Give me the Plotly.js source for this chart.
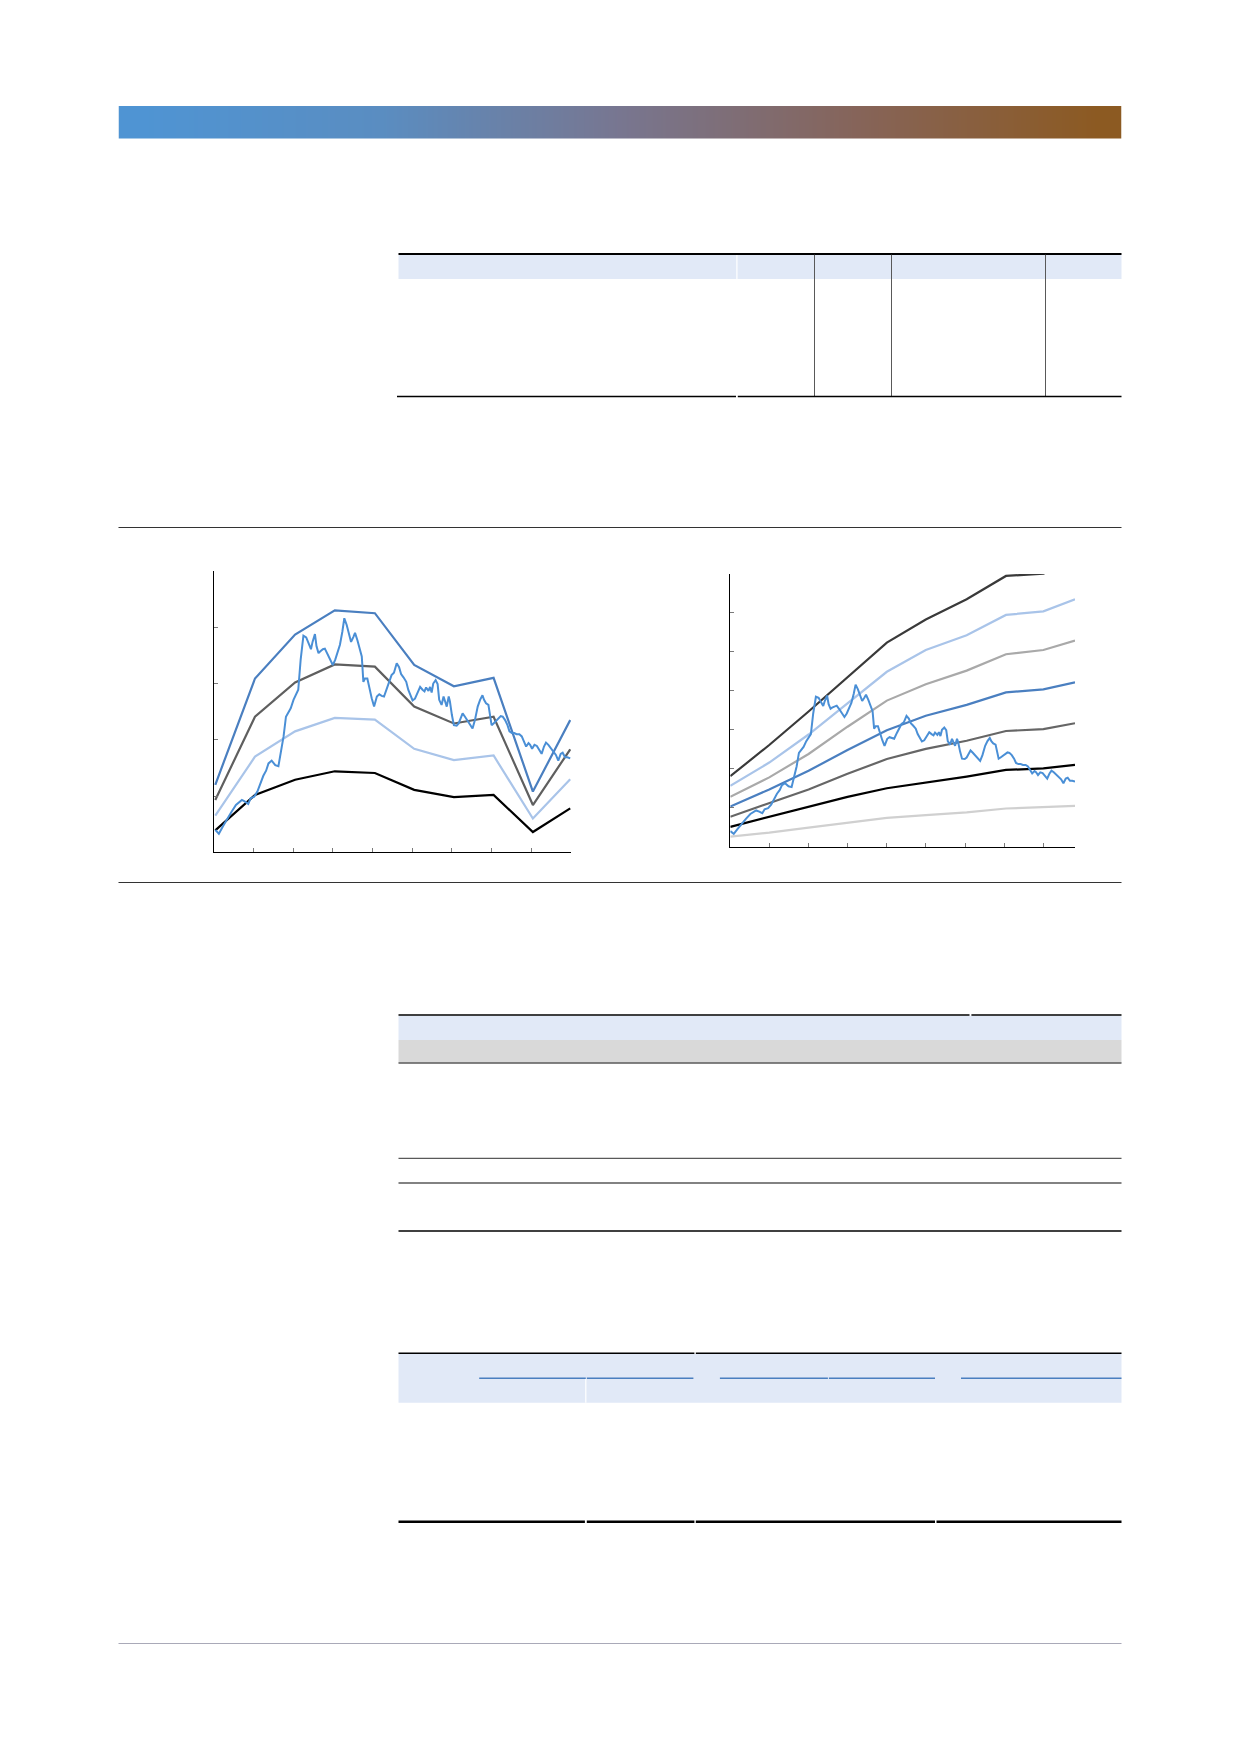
<!DOCTYPE html>
<html>
<head>
<meta charset="utf-8">
<script src="https://cdn.plot.ly/plotly-3.0.1.min.js"></script>
<style>
html,body{margin:0;padding:0;background:#fff;}
#page{width:1240px;height:1754px;}
</style>
</head>
<body>
<div id="page"></div>
<script>
// ---------------- DATA ----------------
// Observed (noisy) series, shared by both charts
var obsT = [0.04,0.13,0.23,0.33,0.45,0.56,0.71,0.79,0.87,0.93,
1.02,1.10,1.17,1.25,1.32,1.38,1.46,1.55,1.63,1.69,
1.76,1.82,1.88,1.94,2.01,2.07,2.13,2.19,2.26,2.33,
2.39,2.45,2.49,2.55,2.59,2.64,2.68,2.75,2.80,2.86,
2.93,3.00,3.06,3.12,3.18,3.24,3.29,3.35,3.41,3.46,
3.52,3.56,3.62,3.67,3.73,3.77,3.81,3.87,3.92,3.98,
4.04,4.11,4.17,4.23,4.29,4.36,4.43,4.48,4.54,4.61,
4.67,4.72,4.78,4.85,4.90,4.96,5.01,5.07,5.13,5.20,
5.26,5.31,5.35,5.41,5.45,5.49,5.53,5.59,5.64,5.68,
5.74,5.79,5.83,5.87,5.92,5.95,6.00,6.05,6.12,6.17,
6.22,6.27,6.33,6.39,6.46,6.52,6.58,6.65,6.71,6.77,
6.81,6.86,6.92,6.96,7.00,7.05,7.11,7.17,7.23,7.28,
7.34,7.40,7.45,7.51,7.57,7.63,7.70,7.76,7.82,7.87,
7.93,7.97,8.02,8.08,8.14,8.20,8.26,8.32,8.37,8.43,
8.49,8.56,8.62,8.68,8.74,8.79,8.85,8.91,8.98];
var obsV = [0.40,0.33,0.46,0.59,0.72,0.84,0.93,0.90,0.86,0.96,
0.99,1.08,1.23,1.36,1.45,1.58,1.63,1.55,1.53,1.76,
2.06,2.41,2.49,2.56,2.71,2.81,2.89,3.42,3.85,3.82,
3.73,3.61,3.74,3.88,3.66,3.54,3.57,3.61,3.62,3.54,
3.42,3.33,3.42,3.54,3.69,3.92,4.16,4.04,3.89,3.74,
3.83,3.90,3.77,3.63,3.48,3.03,3.09,3.09,2.90,2.74,
2.59,2.77,2.81,2.78,2.77,2.92,3.06,3.15,3.19,3.36,
3.29,3.17,3.11,3.03,2.89,2.77,2.70,2.73,2.83,2.94,
2.89,2.86,2.93,2.87,2.94,2.84,3.00,3.06,2.99,2.71,
2.62,2.77,2.68,2.59,2.77,2.68,2.44,2.26,2.25,2.29,
2.38,2.47,2.41,2.34,2.28,2.20,2.35,2.59,2.71,2.79,
2.71,2.65,2.62,2.47,2.26,2.29,2.33,2.38,2.42,2.41,
2.35,2.26,2.15,2.12,2.12,2.10,2.10,2.06,1.95,1.88,
1.94,1.91,1.84,1.91,1.89,1.83,1.75,1.88,1.95,1.91,
1.85,1.79,1.73,1.63,1.75,1.77,1.69,1.69,1.67];

// Chart 1 bands
var c1T = [0.04,1.04,2.05,3.05,4.06,5.05,6.05,7.05,8.04,8.98];
var c1Upper = [1.20,3.09,3.87,4.30,4.25,3.33,2.95,3.10,1.08,2.35];
var c1Mid   = [0.93,2.41,3.02,3.34,3.30,2.59,2.29,2.41,0.84,1.83];
var c1Low   = [0.65,1.70,2.15,2.39,2.36,1.84,1.64,1.72,0.60,1.30];
var c1Base  = [0.39,1.02,1.29,1.44,1.41,1.11,0.98,1.02,0.36,0.78];

// Chart 2 fan
var c2T   = [0.04,1.05,2.07,3.08,4.10,5.11,6.17,7.19,8.16,8.98];
var c2P90 = [1.81,2.61,3.47,4.36,5.24,5.83,6.35,6.95,7.01,7.35];
var c2P80 = [1.56,2.16,2.88,3.68,4.49,5.05,5.43,5.95,6.04,6.35];
var c2P70 = [1.28,1.78,2.38,3.08,3.75,4.17,4.52,4.94,5.05,5.29];
var c2P50 = [1.03,1.47,1.95,2.48,2.99,3.36,3.64,3.96,4.04,4.22];
var c2P30 = [0.77,1.11,1.47,1.87,2.25,2.51,2.72,2.97,3.02,3.17];
var c2P20 = [0.51,0.77,1.03,1.28,1.50,1.64,1.80,1.97,2.01,2.10];
var c2P10 = [0.26,0.36,0.49,0.62,0.74,0.81,0.88,0.98,1.01,1.05];

// ---------------- LAYOUT HELPERS ----------------
var W = 1240, H = 1754;
function X(px){ return px / W; }
function Y(py){ return 1 - py / H; }

function line(x0, x1, y, color, w){
  return {type:'line', xref:'paper', yref:'paper', x0:X(x0), x1:X(x1), y0:Y(y), y1:Y(y),
          line:{color:color, width:w}};
}
function vline(x, y0, y1, color, w){
  return {type:'line', xref:'paper', yref:'paper', x0:X(x), x1:X(x), y0:Y(y0), y1:Y(y1),
          line:{color:color, width:w}};
}
function rect(x0, x1, y0, y1, color){
  return {type:'rect', xref:'paper', yref:'paper', x0:X(x0), x1:X(x1), y0:Y(y1), y1:Y(y0),
          fillcolor:color, line:{width:0}, layer:'below'};
}

var HEAD = '#e1e9f7', GRAY = '#595959', BLUE = '#4a7fc0';
var shapes = [
  // Table 1
  rect(398.5, 1121.5, 254.7, 279, HEAD),
  vline(736.9, 254.7, 279, '#ffffff', 1.2),
  line(398.5, 1121.5, 254, '#000', 2),
  vline(814.5, 254.7, 396.7, GRAY, 1),
  vline(891.5, 254.7, 396.7, GRAY, 1),
  vline(1045.5, 254.7, 396.7, GRAY, 1),
  line(397, 736, 396.5, '#000', 1.3),
  line(737.8, 1121.5, 396.5, '#000', 1.3),
  // Section separators
  line(118.5, 1121.5, 527.5, '#333333', 1),
  line(118.5, 1121.5, 882.5, '#333333', 1),
  // Table 2
  rect(398.5, 1121.5, 1015.7, 1040, HEAD),
  rect(398.5, 1121.5, 1040, 1062.7, '#d9d9d9'),
  line(398.5, 969.5, 1015, '#000', 1.5),
  line(971.4, 1121.5, 1015, '#000', 1.5),
  line(398.5, 1121.5, 1063, GRAY, 1.3),
  line(398.5, 1121.5, 1158.3, GRAY, 1.3),
  line(398.5, 1121.5, 1183, GRAY, 1.3),
  line(398.5, 1121.5, 1231, '#000', 1.5),
  // Table 3
  rect(398.5, 1121.5, 1354, 1402.7, HEAD),
  vline(585.8, 1378.3, 1402.7, '#ffffff', 1.2),
  line(398.5, 694.4, 1353.3, '#000', 1.5),
  line(695.8, 1121.5, 1353.3, '#000', 1.5),
  line(479.2, 585.8, 1378.3, BLUE, 1.5),
  line(586.8, 693.4, 1378.3, BLUE, 1.5),
  line(719.9, 827.9, 1378.3, BLUE, 1.5),
  line(828.9, 935, 1378.3, BLUE, 1.5),
  line(961, 1121.5, 1378.3, BLUE, 1.5),
  line(398.5, 584.9, 1521.7, '#000', 2.5),
  line(586.8, 694.4, 1521.7, '#000', 2.5),
  line(695.8, 935, 1521.7, '#000', 2.5),
  line(936.5, 1121.5, 1521.7, '#000', 2.5),
  // Footer rule
  line(118.5, 1121.5, 1643.5, '#a9a9b8', 1)
];

// ---------------- TRACES ----------------
function ln(x, y, color, w, xa, ya){
  return {type:'scatter', mode:'lines', x:x, y:y, xaxis:xa, yaxis:ya,
          line:{color:color, width:w, shape:'linear'}, hoverinfo:'skip', showlegend:false};
}
var OBS = '#4a8fd6';
var traces = [
  // gradient banner
  {type:'heatmap', z:[[0,1,2,3,4,5,6,7,8,9,10,11,12,13,14,15,16,17,18,19,20]], xaxis:'x3', yaxis:'y3',
   colorscale:[[0,'#4f94d3'],[0.25,'#5a8dc1'],[0.5,'#787690'],[0.75,'#866459'],[1,'#8c5a22']],
   zsmooth:'best', showscale:false, hoverinfo:'skip'},
  // chart 1
  ln(c1T, c1Base, '#000000', 2.2, 'x', 'y'),
  ln(c1T, c1Low, '#a9c4e9', 2.2, 'x', 'y'),
  ln(c1T, c1Mid, '#5f5f5f', 2.2, 'x', 'y'),
  ln(c1T, c1Upper, BLUE, 2.2, 'x', 'y'),
  ln(obsT, obsV, OBS, 2, 'x', 'y'),
  // chart 2
  ln(c2T, c2P10, '#d0d0d0', 2.2, 'x2', 'y2'),
  ln(c2T, c2P20, '#000000', 2.2, 'x2', 'y2'),
  ln(c2T, c2P30, '#666666', 2.2, 'x2', 'y2'),
  ln(c2T, c2P50, BLUE, 2.2, 'x2', 'y2'),
  ln(c2T, c2P70, '#a9a9a9', 2.2, 'x2', 'y2'),
  ln(c2T, c2P80, '#a9c4e9', 2.2, 'x2', 'y2'),
  ln(c2T, c2P90, '#3a3a3a', 2.2, 'x2', 'y2'),
  ln(obsT, obsV, OBS, 2, 'x2', 'y2')
];

function ax(domain, range, tick0, dtick){
  return {domain:domain, range:range, tickmode:'linear', tick0:tick0, dtick:dtick,
          showline:true, linecolor:'#000', linewidth:1, ticks:'inside', ticklen:4,
          tickcolor:'#7a7a7a', tickwidth:1, showticklabels:false, showgrid:false,
          zeroline:false, fixedrange:true};
}

var layout = {
  width:W, height:H, margin:{l:0, r:0, t:0, b:0},
  paper_bgcolor:'#ffffff', plot_bgcolor:'rgba(0,0,0,0)',
  showlegend:false,
  xaxis: Object.assign(ax([X(213.7), X(571)], [0, 9], 0, 1), {anchor:'y'}),
  yaxis: Object.assign(ax([Y(852.3), Y(571)], [0, 5], 0, 1), {anchor:'x'}),
  xaxis2: Object.assign(ax([X(730.3), X(1075)], [0.04, 8.98], 0.04, 1.0145), {anchor:'y2'}),
  yaxis2: Object.assign(ax([Y(846.7), Y(574)], [0, 7], 0, 1), {anchor:'x2'}),
  xaxis3: {domain:[X(118.5), X(1121.5)], visible:false, anchor:'y3', fixedrange:true},
  yaxis3: {domain:[Y(138.6), Y(106)], visible:false, anchor:'x3', fixedrange:true},
  shapes: shapes
};

Plotly.newPlot('page', traces, layout, {staticPlot:true, displayModeBar:false});
</script>
</body>
</html>
